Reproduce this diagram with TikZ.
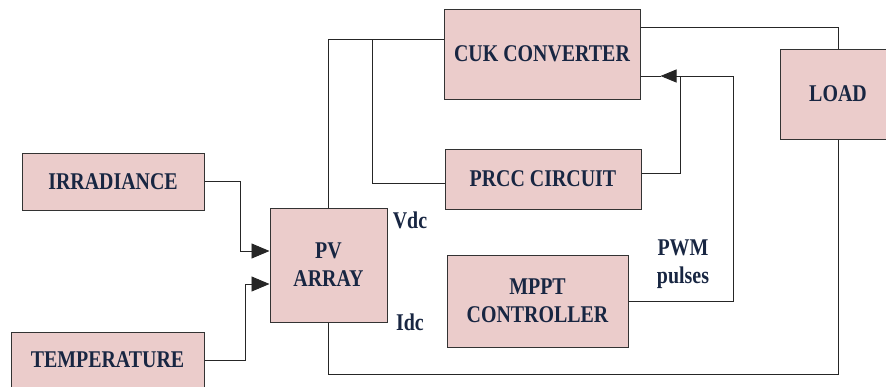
\documentclass[tikz,border=0pt]{standalone}
\usepackage{fontspec}
\newfontfamily\labfont[FakeStretch=0.83]{Liberation Serif}
\usetikzlibrary{arrows.meta}
\definecolor{navy}{RGB}{24,38,66}
\definecolor{boxfill}{RGB}{235,204,203}
\begin{document}
\begin{tikzpicture}[x=1pt,y=-1pt,
  blk/.style={draw=black!80, line width=1pt, fill=boxfill, rectangle, inner sep=0pt,
    align=center, text=navy, font=\labfont\bfseries\fontsize{24}{28}\selectfont},
  lbl/.style={inner sep=0pt, align=center, text=navy, font=\labfont\bfseries\fontsize{24}{28}\selectfont},
  wire/.style={draw=black!85, line width=0.9pt},
  arr/.style={-{Triangle[length=18pt,width=15pt]}}]
\useasboundingbox (0,0) rectangle (886,386);
\node[blk, minimum width=196pt, minimum height=90pt] (cuk) at (542,54) {CUK CONVERTER};
\node[blk, minimum width=196pt, minimum height=60pt] (prcc) at (543,179) {PRCC CIRCUIT};
\node[blk, minimum width=181pt, minimum height=92pt] (mppt) at (537.5,301) {MPPT\\CONTROLLER};
\node[blk, minimum width=116pt, minimum height=90pt] (load) at (838,94) {LOAD};
\node[blk, minimum width=117pt, minimum height=114pt] (pv) at (328.5,265) {PV\\ARRAY};
\node[blk, minimum width=182pt, minimum height=57pt] (irr) at (113,181.5) {IRRADIANCE};
\node[blk, minimum width=193pt, minimum height=56pt] (temp) at (107.5,360) {TEMPERATURE};
\node[lbl] (vdc) at (410,220) {Vdc};
\node[lbl] (idc) at (410,322) {Idc};
\node[lbl] (pwm) at (683,264) {PWM\\pulses};
\coordinate (jA) at (372,39);
\coordinate (jB) at (680,76);
\coordinate (jC) at (733,76);
% inputs to PV
\draw[wire,arr] (irr.east) -- ++(36,0) |- ([yshift=14pt]pv.west);
\draw[wire,arr] (temp.east) -- ++(41,0) |- ([yshift=-19pt]pv.west);
% PV to CUK and PRCC
\draw[wire] (pv.north) |- ([yshift=15pt]cuk.west);
\draw[wire] (jA) |- ([yshift=-4pt]prcc.west);
% CUK to LOAD
\draw[wire] ([yshift=27pt]cuk.east) -| (load.north);
% PRCC and MPPT to CUK
\draw[wire] ([yshift=6pt]prcc.east) -| (jB);
\draw[wire] (mppt.east) -| (jC) -- (jB);
\draw[wire,-{Triangle[length=16pt,width=13pt]},shorten >=20pt] (jB) -- (cuk.east |- jB);
\draw[wire] (cuk.east |- jB) -- ++(20,0);
% PV bottom to LOAD
\draw[wire] (pv.south) -- ++(0,52) -| (load.south);
\end{tikzpicture}
\end{document}
